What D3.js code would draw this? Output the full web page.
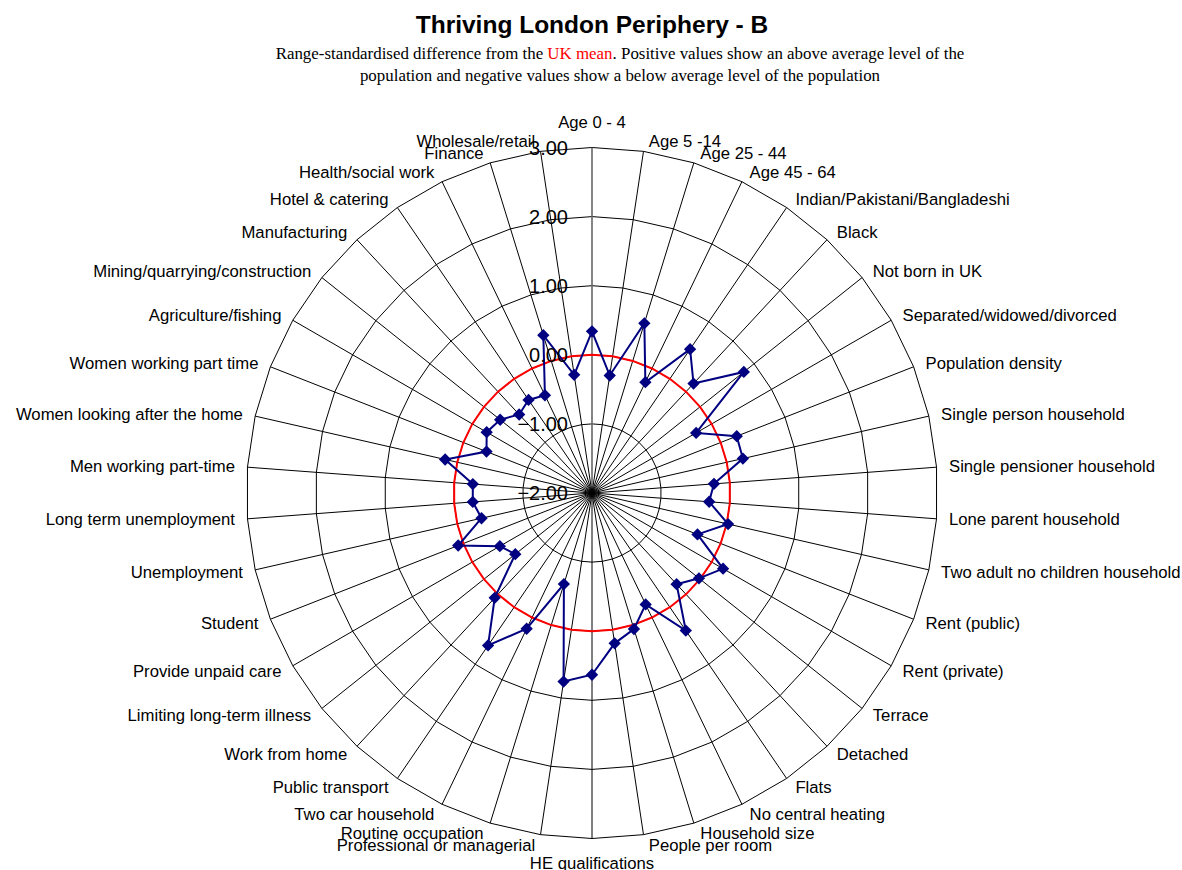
<!DOCTYPE html>
<html>
<head>
<meta charset="utf-8">
<script src="https://cdn.jsdelivr.net/npm/d3@7"></script>
<style>
  body { margin: 0; background: #fff; }
  svg { display: block; }
</style>
</head>
<body>
<div id="chart"></div>
<script>
// Categories, clockwise from the top
const categories = [
  "Age 0 - 4", "Age 5 -14", "Age 25 - 44", "Age 45 - 64", "Indian/Pakistani/Bangladeshi",
  "Black", "Not born in UK", "Separated/widowed/divorced", "Population density",
  "Single person household", "Single pensioner household", "Lone parent household",
  "Two adult no children household", "Rent (public)", "Rent (private)", "Terrace",
  "Detached", "Flats", "No central heating", "Household size", "People per room",
  "HE qualifications", "Professional or managerial", "Routine occupation",
  "Two car household", "Public transport", "Work from home", "Limiting long-term illness",
  "Provide unpaid care", "Student", "Unemployment", "Long term unemployment",
  "Men working part-time", "Women looking after the home", "Women working part time",
  "Agriculture/fishing", "Mining/quarrying/construction", "Manufacturing",
  "Hotel & catering", "Health/social work", "Finance", "Wholesale/retail"
];

// Cluster values (range-standardised difference)
const clusterValues = [
  0.34, -0.28, 0.57, -0.22, 0.52, 0.16, 0.81, -0.26, 0.25, 0.24,
  -0.23, -0.30, 0.02, -0.36, 0.19, -0.02, -0.20, 0.41, -0.21, 0.06,
  0.20, 0.63, 0.76, -0.62, 0.18, 0.67, 0.07, -0.58, -0.46, 0.08,
  -0.36, -0.27, -0.27, 0.18, -0.36, -0.24, -0.30, -0.45, -0.37, -0.43,
  0.39, -0.27
];

// UK mean line
const ukMean = [
  0, 0, 0, 0, 0, 0, 0, 0, 0, 0, 0, 0, 0, 0, 0, 0, 0, 0, 0, 0, 0,
  0, 0, 0, 0, 0, 0, 0, 0, 0, 0, 0, 0, 0, 0, 0, 0, 0, 0, 0, 0, 0
];

const tickValues = [-2, -1, 0, 1, 2, 3];

const width = 1182, height = 870;
const cx = 592, cy = 493;
const outerR = 345.5;

const svg = d3.select("#chart")
  .append("svg")
  .attr("width", width)
  .attr("height", height);

// Scales
const r = d3.scaleLinear().domain([-2, 3]).range([0, outerR]);
const angle = d3.scaleLinear().domain([0, categories.length]).range([0, 2 * Math.PI]);

const px = (i, v) => cx + r(v) * Math.sin(angle(i));
const py = (i, v) => cy - r(v) * Math.cos(angle(i));

const radial = d3.lineRadial()
  .angle((d, i) => angle(i))
  .radius(d => r(d))
  .curve(d3.curveLinearClosed);

const g = svg.append("g").attr("transform", `translate(${cx},${cy})`);

// Grid rings (polygonal)
g.append("g")
  .selectAll("path")
  .data(tickValues.slice(1))
  .join("path")
  .attr("d", v => radial(categories.map(() => v)))
  .attr("fill", "none")
  .attr("stroke", "#000")
  .attr("stroke-width", 1);

// Spokes
g.append("g")
  .selectAll("line")
  .data(categories)
  .join("line")
  .attr("x1", 0).attr("y1", 0)
  .attr("x2", (d, i) => px(i, 3) - cx)
  .attr("y2", (d, i) => py(i, 3) - cy)
  .attr("stroke", (d, i) => i === 0 ? "#666" : "#000")
  .attr("stroke-width", (d, i) => i === 0 ? 1.6 : 1);

// UK mean
g.append("path")
  .attr("d", radial(ukMean))
  .attr("fill", "none")
  .attr("stroke", "#ff0000")
  .attr("stroke-width", 2);

// Cluster series
g.append("path")
  .attr("d", radial(clusterValues))
  .attr("fill", "none")
  .attr("stroke", "#000080")
  .attr("stroke-width", 2);

const diamond = d3.symbol(d3.symbolSquare, 76);
svg.append("g")
  .selectAll("path")
  .data(clusterValues)
  .join("path")
  .attr("d", diamond)
  .attr("transform", (d, i) => `translate(${px(i, d)},${py(i, d)}) rotate(45)`)
  .attr("fill", "#000080");

// Value axis labels
svg.append("g")
  .selectAll("text")
  .data(tickValues)
  .join("text")
  .attr("x", cx - 24)
  .attr("y", d => cy - r(d))
  .attr("dy", "0.35em")
  .attr("text-anchor", "end")
  .style("font-family", "'Liberation Sans', Arial, sans-serif")
  .style("font-size", "20px")
  .text(d => d3.format(".2f")(d));

// Category labels
svg.append("g")
  .selectAll("text")
  .data(categories)
  .join("text")
  .each(function (d, i) {
    const a = angle(i);
    const s = Math.sin(a), c = Math.cos(a);
    const ex = cx + outerR * s, ey = cy - outerR * c;
    let x, y, anchor;
    if (Math.abs(s) < 0.01) {
      x = ex;
      y = ey - 25 * Math.sign(c);
      anchor = "middle";
    } else {
      x = ex + Math.sign(s) * (4 + 8.5 * Math.abs(s));
      y = ey - 10.5 * c;
      anchor = s > 0 ? "start" : "end";
    }
    d3.select(this)
      .attr("x", x)
      .attr("y", y)
      .attr("dy", "0.35em")
      .attr("text-anchor", anchor);
  })
  .style("font-family", "'Liberation Sans', Arial, sans-serif")
  .style("font-size", "16.7px")
  .text(d => d);

// Title
svg.append("text")
  .attr("x", 592)
  .attr("y", 33)
  .attr("text-anchor", "middle")
  .style("font-family", "'Liberation Sans', Arial, sans-serif")
  .style("font-weight", "bold")
  .style("font-size", "24.5px")
  .text("Thriving London Periphery - B");

const sub = svg.append("text")
  .attr("text-anchor", "middle")
  .style("font-family", "'Liberation Serif', 'Times New Roman', serif")
  .style("font-size", "16.9px");

const line1 = sub.append("tspan").attr("x", 620).attr("y", 59);
line1.append("tspan").text("Range-standardised difference from the ");
line1.append("tspan").attr("fill", "#ff0000").text("UK mean");
line1.append("tspan").text(". Positive values show an above average level of the");

sub.append("tspan").attr("x", 620).attr("y", 81)
  .text("population and negative values show a below average level of the population");
</script>
</body>
</html>
